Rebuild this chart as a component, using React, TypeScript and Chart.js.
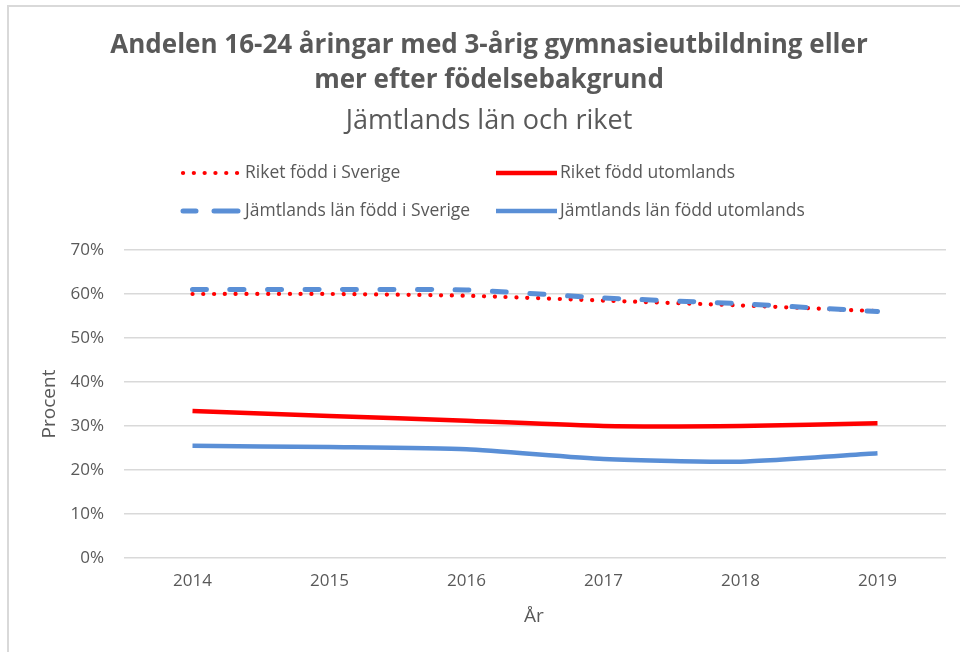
import React, { useEffect, useRef } from "react";
import { Chart, registerables } from "chart.js";

Chart.register(...registerables);

const titleLines = ["Andelen 16-24 åringar med 3-årig gymnasieutbildning eller", "mer efter födelsebakgrund"];
const subtitle = "Jämtlands län och riket";
const years = ["2014", "2015", "2016", "2017", "2018", "2019"];
const riketSverige = [60.0, 60.0, 59.6, 58.5, 57.4, 56.1];
const riketUtomlands = [33.4, 32.3, 31.2, 30.0, 30.0, 30.6];
const jamtSverige = [61.0, 61.0, 60.9, 59.1, 57.8, 56.0];
const jamtUtomlands = [25.5, 25.2, 24.7, 22.5, 21.9, 23.8];
const seriesNames = [
  "Riket född i Sverige",
  "Riket född utomlands",
  "Jämtlands län född i Sverige",
  "Jämtlands län född utomlands",
];
const yTitle = "Procent";
const xTitle = "År";

const RED = "#ff0000";
const BLUE = "#5a8fd6";
const TEXT = "#595959";
const GRID = "#d9d9d9";
const FONT = "'Open Sans', 'Noto Sans', sans-serif";

const styles = [
  { color: RED, width: 4.2, dash: [0.1, 10.7], cap: "round" as CanvasLineCap },
  { color: RED, width: 4.5, dash: [] as number[], cap: "butt" as CanvasLineCap },
  { color: BLUE, width: 5, dash: [14, 23.5], cap: "round" as CanvasLineCap },
  { color: BLUE, width: 4.5, dash: [] as number[], cap: "butt" as CanvasLineCap },
];

const decorPlugin = {
  id: "decor",
  afterDraw(chart: any) {
    const ctx = chart.ctx as CanvasRenderingContext2D;
    ctx.save();
    ctx.fillStyle = TEXT;
    ctx.textAlign = "center";
    ctx.textBaseline = "middle";
    ctx.font = `bold 26px ${FONT}`;
    ctx.fillText(titleLines[0], 489, 46);
    ctx.fillText(titleLines[1], 489, 81);
    ctx.font = `27px ${FONT}`;
    ctx.fillText(subtitle, 489, 121);

    // legend
    const items = [
      { x: 181, y: 173, s: 0 },
      { x: 496, y: 173, s: 1 },
      { x: 181, y: 211, s: 2 },
      { x: 496, y: 211, s: 3 },
    ];
    ctx.font = `17.5px ${FONT}`;
    ctx.textAlign = "left";
    for (const it of items) {
      const st = styles[it.s];
      ctx.save();
      ctx.strokeStyle = st.color;
      ctx.lineWidth = st.width;
      ctx.lineCap = st.cap;
      ctx.setLineDash(st.dash);
      ctx.beginPath();
      if (it.s === 2) {
        ctx.setLineDash([]);
        ctx.moveTo(183, it.y);
        ctx.lineTo(196, it.y);
        ctx.moveTo(214, it.y);
        ctx.lineTo(238, it.y);
      } else if (it.s === 0) {
        ctx.moveTo(183, it.y);
        ctx.lineTo(242, it.y);
      } else {
        ctx.moveTo(it.x, it.y);
        ctx.lineTo(it.x + 61, it.y);
      }
      ctx.stroke();
      ctx.restore();
      ctx.fillStyle = TEXT;
      ctx.fillText(seriesNames[it.s], it.x + 64, it.y);
    }

    // axis titles
    ctx.textAlign = "center";
    ctx.font = `19px ${FONT}`;
    ctx.fillText(xTitle, 534, 617);
    ctx.translate(50, 404);
    ctx.rotate(-Math.PI / 2);
    ctx.fillText(yTitle, 0, 0);
    ctx.restore();
  },
};

export default function App() {
  const ref = useRef<HTMLCanvasElement | null>(null);
  useEffect(() => {
    if (!ref.current) return;
    const data = [riketSverige, riketUtomlands, jamtSverige, jamtUtomlands];
    const orders = [2, 1, 0, 3];
    const chart = new Chart(ref.current, {
      type: "line",
      data: {
        labels: years,
        datasets: data.map((d, i) => ({
          label: seriesNames[i],
          data: d,
          borderColor: styles[i].color,
          backgroundColor: styles[i].color,
          borderWidth: styles[i].width,
          borderDash: styles[i].dash,
          borderCapStyle: styles[i].cap,
          borderJoinStyle: "round" as CanvasLineJoin,
          pointRadius: 0,
          pointHoverRadius: 0,
          tension: 0.2,
          fill: false,
          order: orders[i],
        })),
      },
      options: {
        animation: false,
        responsive: true,
        maintainAspectRatio: false,
        layout: { padding: { top: 250, right: 14, bottom: 54, left: 0 } },
        plugins: {
          legend: { display: false },
          title: { display: false },
          tooltip: { enabled: false },
        },
        scales: {
          x: {
            offset: true,
            grid: { display: false, drawTicks: false },
            border: { display: false },
            ticks: { color: TEXT, font: { family: FONT, size: 17 }, padding: 13 },
            afterFit: (s: any) => {
              s.height = 40;
            },
          },
          y: {
            min: 0,
            max: 70,
            ticks: {
              stepSize: 10,
              color: TEXT,
              font: { family: FONT, size: 17 },
              padding: 20,
              callback: (v: any) => `${v}%`,
            },
            grid: { color: GRID, lineWidth: 1.5, drawTicks: false },
            border: { display: false },
            afterFit: (s: any) => {
              s.width = 124;
            },
          },
        },
      },
      plugins: [decorPlugin],
    });
    return () => chart.destroy();
  }, []);

  return (
    <div style={{ position: "fixed", left: 0, top: 0, width: 960, height: 652, overflow: "hidden", background: "#fff" }}>
      <div
        style={{
          position: "absolute",
          left: 7,
          top: 5,
          width: 1000,
          height: 700,
          borderLeft: `2px solid ${GRID}`,
          borderTop: `2px solid ${GRID}`,
        }}
      />
      <div style={{ position: "absolute", left: 0, top: 0, width: 960, height: 652 }}>
        <canvas ref={ref} />
      </div>
    </div>
  );
}
